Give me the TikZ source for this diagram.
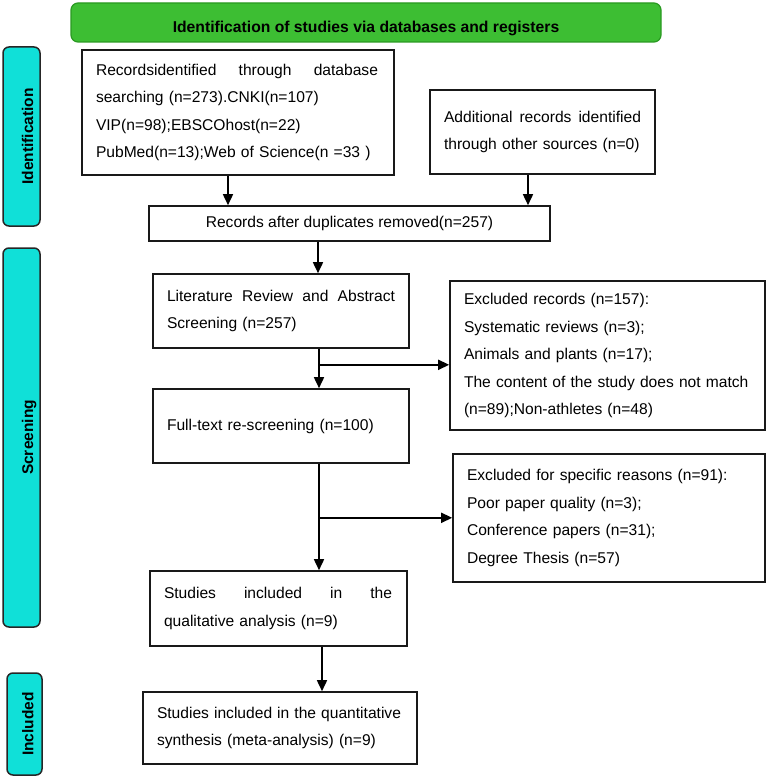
\documentclass[tikz,border=0pt]{standalone}
\usepackage{fontspec}
\setmainfont{Liberation Sans}
\usetikzlibrary{arrows.meta}
\definecolor{bannergreen}{HTML}{3DBE33}
\definecolor{bannerline}{HTML}{2A9A22}
\definecolor{sidecyan}{HTML}{10E0D8}
\tikzset{
  box/.style={draw=black!90, line width=1.6pt, inner xsep=14pt, inner ysep=0pt,
    align=left, font=\fontsize{15.6}{27.5}\selectfont, anchor=center},
  arr/.style={line width=1.6pt, -{Triangle[length=11pt,width=10pt]}},
  side/.style={draw=black!85, line width=1.5pt, fill=sidecyan, rounded corners=6pt,
    rotate=90, inner sep=0pt, font=\fontsize{15.5}{18}\selectfont\bfseries, text depth=0pt},
  banner/.style={draw=bannerline, fill=bannergreen, rounded corners=7pt, line width=1.2pt,
    inner sep=0pt, font=\fontsize{15.7}{18}\selectfont\bfseries, text depth=0pt},
}
\begin{document}
\begin{tikzpicture}[x=1pt,y=-1pt]
\useasboundingbox (0,0) rectangle (768,778);

% banner and side labels
\node[banner, minimum width=590pt, minimum height=39pt, text height=19.6pt] (ban) at (366,22.5)
  {Identification of studies via databases and registers};
\node[side, minimum width=179pt, minimum height=37pt, text height=23pt] (sid) at (21.5,136.5) {Identification};
\node[side, minimum width=379pt, minimum height=37pt, text height=23pt] (sscr) at (21.5,437.5) {Screening};
\node[side, minimum width=102pt, minimum height=35pt, text height=17.6pt] (sinc) at (24.5,724) {Included};

% boxes
\node[box, text width=284pt, minimum height=125pt] (rec) at (238,112.5)
  {\hbox to 282pt{Recordsidentified\hfill through\hfill database}\\
   searching (n=273).CNKI(n=107)\\
   VIP(n=98);EBSCOhost(n=22)\\
   PubMed(n=13);Web of Science(n =33 )};
\node[box, text width=197pt, minimum height=84pt] (add) at (542.5,132)
  {\hbox to 197pt{Additional\hfill records\hfill identified}\\
   through other sources (n=0)};
\node[box, align=center, minimum width=401pt, minimum height=35pt] (dup) at (349.5,223.5)
  {Records after duplicates removed(n=257)};
\node[box, text width=228pt, minimum height=74pt] (lit) at (281,311)
  {\hbox to 228pt{Literature\hfill Review\hfill and\hfill Abstract}\\
   Screening (n=257)};
\node[box, text width=228pt, minimum height=74pt] (full) at (281,426)
  {Full-text re-screening (n=100)};
\node[box, text width=287pt, minimum height=149pt] (ex1) at (607.5,355.5)
  {Excluded records (n=157):\\
   Systematic reviews (n=3);\\
   Animals and plants (n=17);\\
   The content of the study does not match\\
   (n=89);Non-athletes (n=48)};
\node[box, text width=284pt, minimum height=128pt] (ex2) at (609,518)
  {Excluded for specific reasons (n=91):\\
   Poor paper quality (n=3);\\
   Conference papers (n=31);\\
   Degree Thesis (n=57)};
\node[box, text width=229pt, minimum height=75pt] (qual) at (278.5,608.5)
  {\hbox to 228pt{Studies\hfill included\hfill in\hfill the}\\
   qualitative analysis (n=9)};
\node[box, text width=246pt, minimum height=72pt] (fin) at (280,728)
  {\hbox to 244pt{Studies\hfill included\hfill in\hfill the\hfill quantitative}\\
   synthesis (meta-analysis) (n=9)};

% connectors
\coordinate (a1) at ([xshift=-10pt]rec.south);
\draw[arr] (a1) -- (a1 |- dup.north);
\coordinate (a2) at ([xshift=-14.5pt]add.south);
\draw[arr] (a2) -- (a2 |- dup.north);
\coordinate (a3) at ([xshift=37pt]lit.north);
\draw[arr] (a3 |- dup.south) -- (a3);
\coordinate (a4) at ([xshift=38pt]lit.south);
\draw[arr] (a4) -- (a4 |- full.north);
\path (a4) ++(0,16) coordinate (b1);
\draw[arr] (b1) -- (b1 -| ex1.west);
\coordinate (a5) at ([xshift=38pt]full.south);
\draw[arr] (a5) -- (a5 |- qual.north);
\path (a5) ++(0,54) coordinate (b2);
\draw[arr] (b2) -- (b2 -| ex2.west);
\coordinate (a6) at ([xshift=43.5pt]qual.south);
\draw[arr] (a6) -- (a6 |- fin.north);
\end{tikzpicture}
\end{document}
